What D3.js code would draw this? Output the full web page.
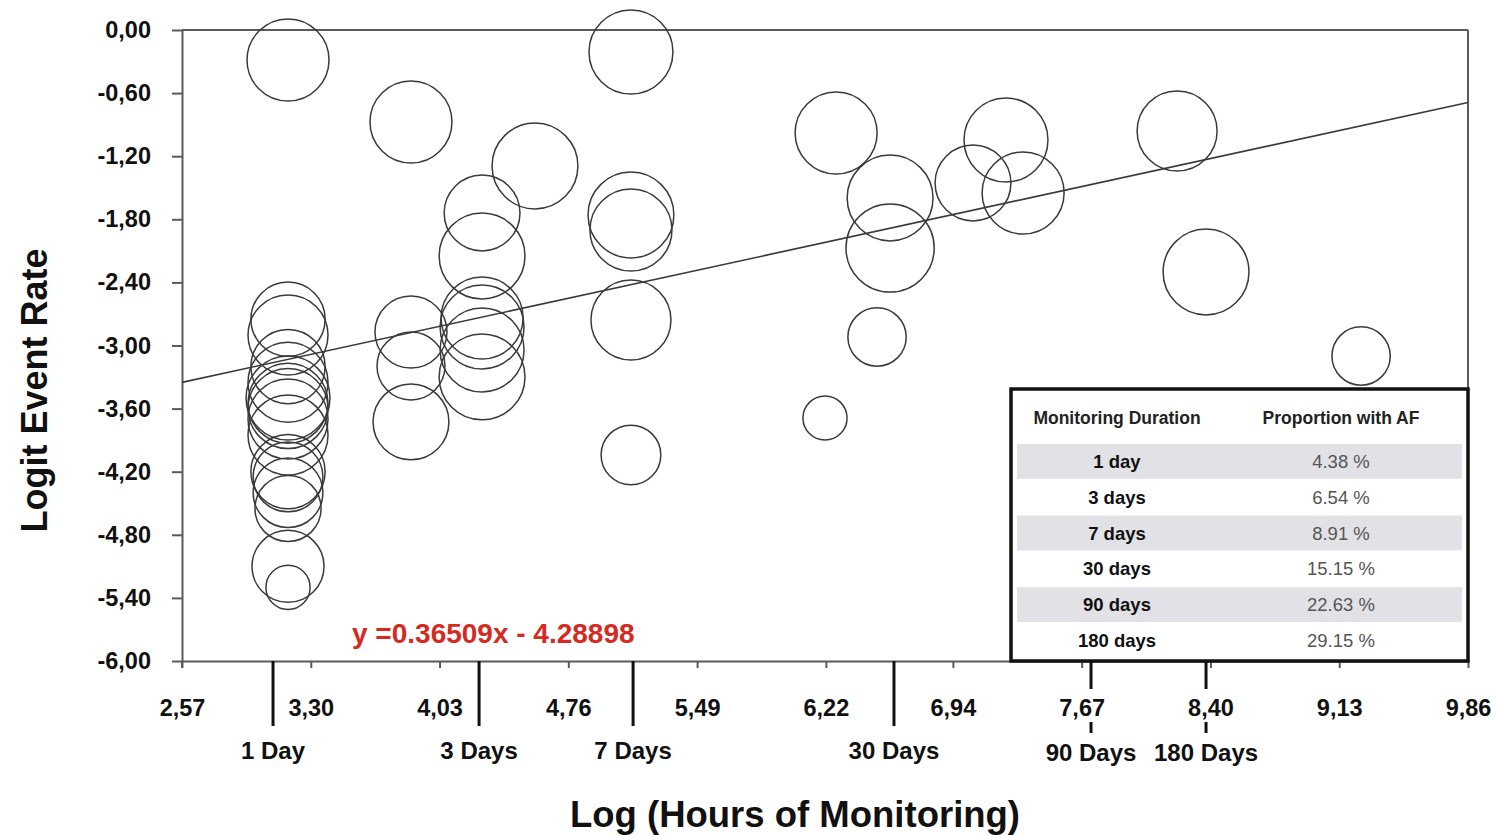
<!DOCTYPE html>
<html>
<head>
<meta charset="utf-8">
<script src="https://cdn.jsdelivr.net/npm/d3@7/dist/d3.min.js"></script>
<style>
  body { margin: 0; background: #fff; }
  svg { font-family: "Liberation Sans", Arial, sans-serif; }
</style>
</head>
<body>
<svg id="chart"></svg>
<script>
// axis ticks
const xTicks = [2.57, 3.30, 4.03, 4.76, 5.49, 6.22, 6.94, 7.67, 8.40, 9.13, 9.86];
const yTicks = [0, -0.6, -1.2, -1.8, -2.4, -3.0, -3.6, -4.2, -4.8, -5.4, -6.0];

// monitoring duration markers under the x axis
const dayLabels = ['1 Day', '3 Days', '7 Days', '30 Days', '90 Days', '180 Days'];
const dayValues = [3.086, 4.254, 5.127, 6.606, 7.723, 8.375];
const dayBroken = [false, false, false, false, true, true];

// studies: log hours, logit event rate, weight
const studyX = [
  3.171, 3.868, 5.115, 4.571, 4.271, 4.271, 5.115, 5.115, 5.115, 5.115,
  6.278, 6.584, 6.584, 6.510, 6.215, 7.054, 7.241, 7.338, 8.211, 8.375, 9.254,
  3.868, 3.868, 3.868,
  4.271, 4.271, 4.271, 4.271,
  3.171, 3.171, 3.171, 3.171, 3.171, 3.171, 3.171, 3.171, 3.171, 3.171,
  3.171, 3.171, 3.171, 3.171, 3.171
];
const studyY = [
  -0.285, -0.875, -0.209, -1.293, -1.740, -2.149, -1.759, -1.902, -2.757, -4.041,
  -0.979, -1.597, -2.073, -2.919, -3.689, -1.455, -1.046, -1.550, -0.960, -2.301, -3.100,
  -2.872, -3.195, -3.727,
  -2.738, -2.824, -3.043, -3.299,
  -2.75, -2.90, -3.20, -3.35, -3.50, -3.55, -3.60, -3.70, -3.85, -4.20,
  -4.25, -4.40, -4.55, -5.10, -5.30
];
const studyWeight = [
  83, 83, 87, 91, 71, 91, 91, 83, 79, 44,
  83, 91, 96, 42, 24, 71, 87, 83, 79, 91, 42,
  64, 57, 71,
  83, 87, 87, 91,
  68, 79, 68, 79, 87, 79, 79, 79, 79, 68,
  60, 60, 54, 64, 24
];

// meta-regression
const slope = 0.36509;
const intercept = -4.28898;
const equationLabel = 'y =0.36509x - 4.28898';

// inset table
const tableHeader = ['Monitoring Duration', 'Proportion with AF'];
const tableDurations = ['1 day', '3 days', '7 days', '30 days', '90 days', '180 days'];
const tableProportions = ['4.38 %', '6.54 %', '8.91 %', '15.15 %', '22.63 %', '29.15 %'];

const width = 1499;
const height = 835;
const margin = { top: 30, right: 31, bottom: 174, left: 182 };
const axisColor = '#5a5a5a';

const svg = d3.select('#chart').attr('width', width).attr('height', height);

const xScale = d3.scaleLinear()
  .domain([2.57, 9.86])
  .range([margin.left, width - margin.right]);

const yScale = d3.scaleLinear()
  .domain([-6, 0])
  .range([height - margin.bottom, margin.top]);

const rScale = d3.scaleSqrt().domain([0, 100]).range([0, 45]);

const commaFmt = d3.formatLocale({
  decimal: ',', thousands: '.', grouping: [3], currency: ['', ''], minus: '-'
}).format('.2f');

// y axis
const yAxis = svg.append('g')
  .attr('transform', `translate(${margin.left},0)`)
  .call(d3.axisLeft(yScale).tickValues(yTicks).tickFormat(commaFmt).tickSize(10).tickSizeOuter(0).tickPadding(21));

// x axis
const xAxis = svg.append('g')
  .attr('transform', `translate(0,${height - margin.bottom})`)
  .call(d3.axisBottom(xScale).tickValues(xTicks).tickFormat(commaFmt).tickSize(7).tickSizeOuter(0).tickPadding(31));

[yAxis, xAxis].forEach(g => {
  g.select('.domain').attr('stroke', axisColor).attr('stroke-width', 2);
  g.selectAll('.tick line').attr('stroke', axisColor).attr('stroke-width', 2);
  g.selectAll('.tick text')
    .attr('fill', '#111')
    .style('font-size', '23.5px')
    .style('font-weight', 'bold');
});

// extend the left axis a little below the bottom
svg.append('line')
  .attr('x1', margin.left).attr('x2', margin.left)
  .attr('y1', yScale(-6)).attr('y2', yScale(-6) + 7)
  .attr('stroke', axisColor).attr('stroke-width', 2);

// frame top and right
svg.append('line')
  .attr('x1', margin.left).attr('x2', xScale(9.86))
  .attr('y1', yScale(0)).attr('y2', yScale(0))
  .attr('stroke', axisColor).attr('stroke-width', 2);
svg.append('line')
  .attr('x1', xScale(9.86)).attr('x2', xScale(9.86))
  .attr('y1', yScale(0)).attr('y2', yScale(-6))
  .attr('stroke', axisColor).attr('stroke-width', 2);

// bubbles
const studies = studyX.map((x, i) => ({ x, y: studyY[i], w: studyWeight[i] }));

svg.append('g')
  .selectAll('circle')
  .data(studies)
  .enter()
  .append('circle')
  .attr('cx', d => xScale(d.x))
  .attr('cy', d => yScale(d.y))
  .attr('r', d => rScale(d.w))
  .attr('fill', 'none')
  .attr('stroke', '#3a3a3a')
  .attr('stroke-width', 1.5);

// regression line
const xDom = xScale.domain();
svg.append('line')
  .attr('x1', xScale(xDom[0])).attr('y1', yScale(slope * xDom[0] + intercept))
  .attr('x2', xScale(xDom[1])).attr('y2', yScale(slope * xDom[1] + intercept))
  .attr('stroke', '#3a3a3a')
  .attr('stroke-width', 1.6);

svg.append('text')
  .attr('x', 352)
  .attr('y', 643)
  .attr('fill', '#d42a22')
  .style('font-size', '28px')
  .style('font-weight', 'bold')
  .text(equationLabel);

// duration markers
const axisY = yScale(-6);
const days = dayValues.map((v, i) => ({ v, label: dayLabels[i], broken: dayBroken[i] }));

const dayG = svg.append('g').selectAll('g').data(days).enter().append('g');

dayG.filter(d => !d.broken)
  .append('line')
  .attr('x1', d => xScale(d.v)).attr('x2', d => xScale(d.v))
  .attr('y1', axisY).attr('y2', axisY + 65)
  .attr('stroke', '#111').attr('stroke-width', 3);

dayG.filter(d => d.broken)
  .append('line')
  .attr('x1', d => xScale(d.v)).attr('x2', d => xScale(d.v))
  .attr('y1', axisY).attr('y2', axisY + 28)
  .attr('stroke', '#111').attr('stroke-width', 3);

dayG.filter(d => d.broken)
  .append('line')
  .attr('x1', d => xScale(d.v)).attr('x2', d => xScale(d.v))
  .attr('y1', axisY + 61).attr('y2', axisY + 72)
  .attr('stroke', '#111').attr('stroke-width', 3);

dayG.append('text')
  .attr('x', d => xScale(d.v))
  .attr('y', d => axisY + (d.broken ? 100 : 98))
  .attr('text-anchor', 'middle')
  .attr('fill', '#111')
  .style('font-size', '24px')
  .style('font-weight', 'bold')
  .text(d => d.label);

// axis titles
svg.append('text')
  .attr('transform', `translate(47, ${(margin.top + height - margin.bottom) / 2 + 45}) rotate(-90)`)
  .attr('text-anchor', 'middle')
  .attr('fill', '#111')
  .style('font-size', '36px')
  .style('font-weight', 'bold')
  .text('Logit Event Rate');

svg.append('text')
  .attr('x', 795)
  .attr('y', 827)
  .attr('text-anchor', 'middle')
  .attr('fill', '#111')
  .style('font-size', '36.5px')
  .style('font-weight', 'bold')
  .text('Log (Hours of Monitoring)');

// inset table
const tbl = { x: 1011, y: 389, w: 457, h: 272 };
const rowH = 35.8;
const col1 = 1117;
const col2 = 1341;

const table = svg.append('g');

table.append('rect')
  .attr('x', tbl.x).attr('y', tbl.y)
  .attr('width', tbl.w).attr('height', tbl.h)
  .attr('fill', '#fff');

const rows = tableDurations.map((d, i) => ({ d, p: tableProportions[i], i }));

table.selectAll('.stripe')
  .data(rows.filter(r => r.i % 2 === 0))
  .enter()
  .append('rect')
  .attr('class', 'stripe')
  .attr('x', tbl.x + 6)
  .attr('y', r => 444 + r.i * rowH)
  .attr('width', tbl.w - 12)
  .attr('height', rowH - 1)
  .attr('fill', '#e2e2e6');

table.selectAll('.hdr')
  .data(tableHeader)
  .enter()
  .append('text')
  .attr('class', 'hdr')
  .attr('x', (d, i) => i === 0 ? col1 : col2)
  .attr('y', 424)
  .attr('text-anchor', 'middle')
  .attr('fill', '#222')
  .style('font-size', '17.5px')
  .style('font-weight', 'bold')
  .text(d => d);

table.selectAll('.dur')
  .data(rows)
  .enter()
  .append('text')
  .attr('class', 'dur')
  .attr('x', col1)
  .attr('y', r => 468 + r.i * rowH)
  .attr('text-anchor', 'middle')
  .attr('fill', '#111')
  .style('font-size', '18.5px')
  .style('font-weight', 'bold')
  .text(r => r.d);

table.selectAll('.prop')
  .data(rows)
  .enter()
  .append('text')
  .attr('class', 'prop')
  .attr('x', col2)
  .attr('y', r => 468 + r.i * rowH)
  .attr('text-anchor', 'middle')
  .attr('fill', '#555')
  .style('font-size', '18.5px')
  .text(r => r.p);

table.append('rect')
  .attr('x', tbl.x).attr('y', tbl.y)
  .attr('width', tbl.w).attr('height', tbl.h)
  .attr('fill', 'none')
  .attr('stroke', '#111')
  .attr('stroke-width', 3.5);
</script>
</body>
</html>
